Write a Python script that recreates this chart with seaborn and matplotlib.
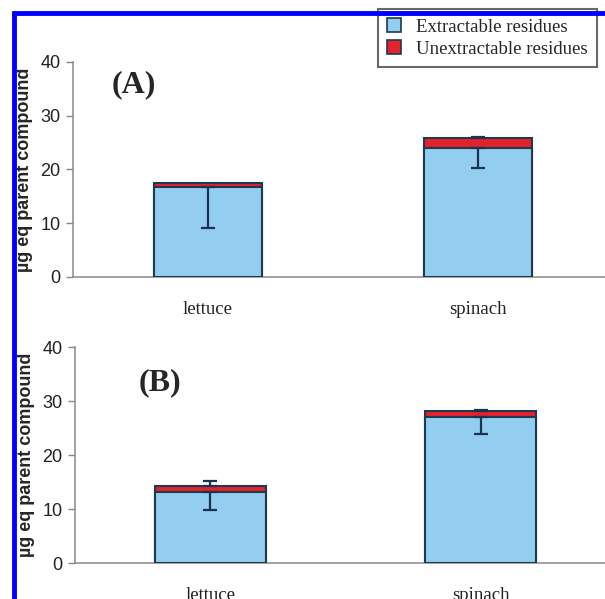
import numpy as np
import pandas as pd
import matplotlib
matplotlib.use("Agg")
import matplotlib.pyplot as plt
from matplotlib.patches import Patch
from matplotlib.lines import Line2D
import seaborn as sns

sns.set_style("white")
plt.rcParams['font.family'] = ['Liberation Sans', 'DejaVu Sans']

# ---- data ----
categories = ["lettuce", "spinach"]
extract_A = [16.8, 24.0]
unextract_A = [0.6, 1.8]
extract_minus_err_A = [7.6, 3.7]
unextract_plus_err_A = [0.0, 0.2]

extract_B = [13.1, 27.0]
unextract_B = [1.2, 1.1]
extract_minus_err_B = [3.25, 3.1]
unextract_plus_err_B = [0.8, 0.2]

panel_labels = ["(A)", "(B)"]
legend_labels = ["Extractable residues", "Unextractable residues"]
ylabel = "µg eq parent compound"
yticks = [0, 10, 20, 30, 40]

BLUE = "#93CDEF"
RED = "#E3222B"
EDGE = "#1E3A4C"
ERR = "#1A3350"

W, H = 605, 599
fig = plt.figure(figsize=(W / 100, H / 100), dpi=100)

def px_axes(x0, y_top, x1, y_bot):
    return fig.add_axes([x0 / W, 1 - y_bot / H, (x1 - x0) / W, (y_bot - y_top) / H])

axA = px_axes(73, 62, 613, 277)
axB = px_axes(75, 347, 616, 563)

panels = [
    (axA, extract_A, unextract_A, extract_minus_err_A, unextract_plus_err_A, panel_labels[0], (112, 85), 0.40),
    (axB, extract_B, unextract_B, extract_minus_err_B, unextract_plus_err_B, panel_labels[1], (139, 383), 0.41),
]

for ax, ext, unext, eminus, uplus, plabel, lab_xy, bw in panels:
    total = [e + u for e, u in zip(ext, unext)]
    df = pd.DataFrame({"cat": categories, "extract": ext, "total": total})
    sns.barplot(data=df, x="cat", y="total", color=RED, saturation=1,
                edgecolor=EDGE, linewidth=1.5, width=bw, ax=ax, zorder=2)
    sns.barplot(data=df, x="cat", y="extract", color=BLUE, saturation=1,
                edgecolor=EDGE, linewidth=1.5, width=bw, ax=ax, zorder=3)
    xs = np.arange(len(categories))
    ax.errorbar(xs, ext, yerr=[eminus, [0] * len(ext)], fmt="none",
                ecolor=ERR, elinewidth=1.6, capsize=5, capthick=1.6, zorder=5)
    uplus_arr = np.array(uplus)
    mask = uplus_arr > 0
    ax.errorbar(xs[mask], np.array(total)[mask],
                yerr=[np.zeros(mask.sum()), uplus_arr[mask]], fmt="none",
                ecolor=ERR, elinewidth=1.6, capsize=5, capthick=1.6, zorder=5)

    ax.set_ylim(0, 40)
    ax.set_xlim(-0.5, 1.5)
    ax.set_yticks(yticks)
    ax.set_yticklabels([str(t) for t in yticks], fontsize=13, color="#222222")
    ax.set_xticks(xs)
    ax.set_xticklabels(categories, fontsize=13.5, family=["Liberation Serif"], color="#222222")
    ax.set_xticks([0.5], minor=True)
    ax.tick_params(axis="x", which="major", length=0, pad=17)
    ax.tick_params(axis="x", which="minor", length=5, width=1, color="#888888", direction="out")
    ax.tick_params(axis="y", length=5, width=1, color="#888888", direction="out", pad=4, left=True)
    for s in ["top", "right"]:
        ax.spines[s].set_visible(False)
    for s in ["left", "bottom"]:
        ax.spines[s].set_color("#8a8a8a")
        ax.spines[s].set_linewidth(1.1)
    ax.set_xlabel("")
    ax.set_ylabel(ylabel, fontsize=13, fontweight="bold", labelpad=5)
    ax.text(lab_xy[0] / W, 1 - lab_xy[1] / H, plabel, transform=fig.transFigure,
            fontsize=23, fontweight="bold", family=["Liberation Serif"],
            ha="left", va="center")

handles = [Patch(facecolor=BLUE, edgecolor=EDGE, linewidth=1.2),
           Patch(facecolor=RED, edgecolor=EDGE, linewidth=1.2)]
leg = fig.legend(handles, legend_labels, loc="upper right",
                 bbox_to_anchor=(597 / W, 1 - 9 / H),
                 prop={"family": "Liberation Serif", "size": 13.5},
                 frameon=True, fancybox=False, shadow=False,
                 handlelength=0.75, handleheight=0.75, handletextpad=0.8,
                 borderpad=0.5, labelspacing=0.25, borderaxespad=0)
leg.get_frame().set_edgecolor("#444444")
leg.get_frame().set_linewidth(1.5)
leg.set_zorder(10)

# blue frame (top and left)
fig.add_artist(Line2D([12 / W, 1.0], [1 - 12.5 / H, 1 - 12.5 / H], color="#0000FF",
                      linewidth=3.5, solid_capstyle="butt",
                      transform=fig.transFigure, zorder=20))
fig.add_artist(Line2D([14 / W, 14 / W], [1 - 10.5 / H, 0.0], color="#0000FF",
                      linewidth=3.5, solid_capstyle="butt",
                      transform=fig.transFigure, zorder=20))

fig.savefig("out.png", dpi=100)
